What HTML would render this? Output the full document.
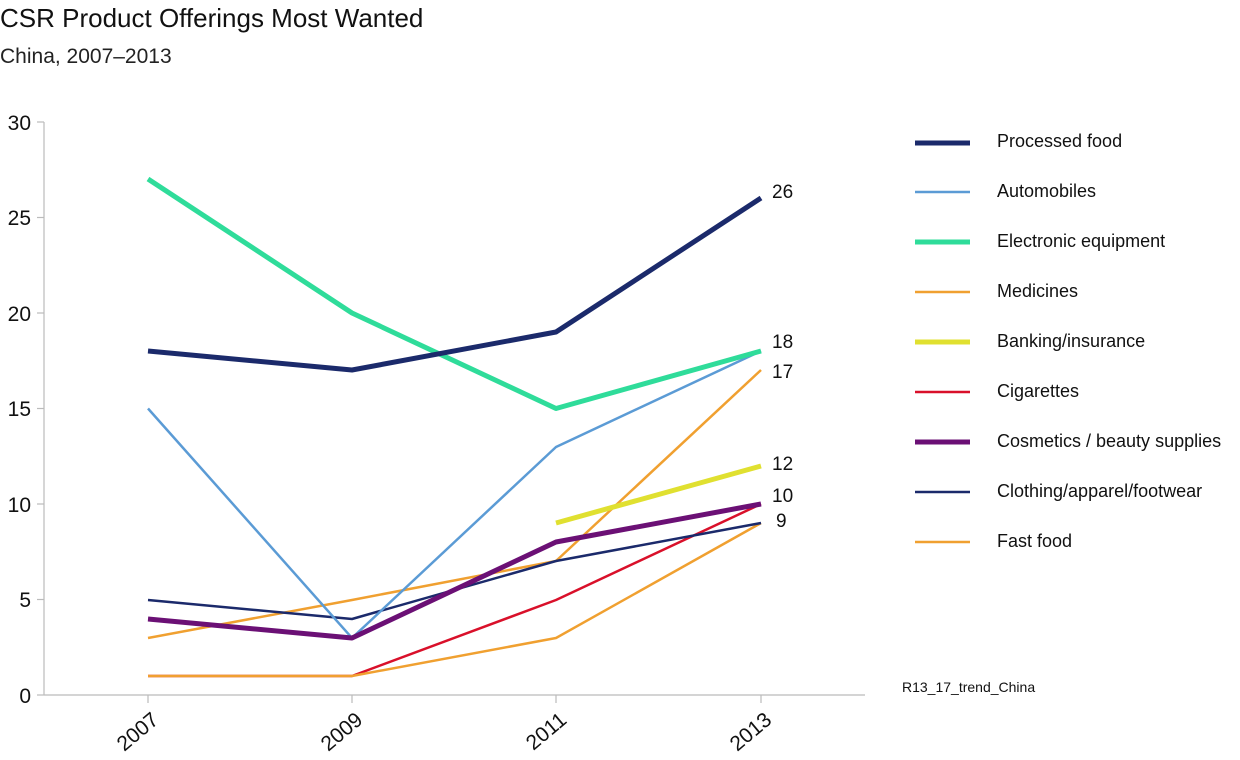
<!DOCTYPE html>
<html><head><meta charset="utf-8"><style>
body{margin:0;background:#fff;width:1240px;height:755px;overflow:hidden;font-family:"Liberation Sans",sans-serif}
</style></head><body>
<svg width="1240" height="755" xmlns="http://www.w3.org/2000/svg" font-family="Liberation Sans, sans-serif">
<text x="0" y="27" font-size="26" fill="#111">CSR Product Offerings Most Wanted</text>
<text x="0" y="63" font-size="21" fill="#222">China, 2007–2013</text>
<g stroke="#bbb" stroke-width="1.2">
<line x1="44" y1="122" x2="44" y2="695"/><line x1="44" y1="695" x2="865" y2="695"/>
<line x1="37" y1="122" x2="44" y2="122"/><line x1="37" y1="217.5" x2="44" y2="217.5"/><line x1="37" y1="313" x2="44" y2="313"/><line x1="37" y1="408.5" x2="44" y2="408.5"/><line x1="37" y1="504" x2="44" y2="504"/><line x1="37" y1="599.5" x2="44" y2="599.5"/><line x1="37" y1="695" x2="44" y2="695"/>
<line x1="148" y1="695" x2="148" y2="703"/><line x1="352" y1="695" x2="352" y2="703"/><line x1="556" y1="695" x2="556" y2="703"/><line x1="761" y1="695" x2="761" y2="703"/>
</g>
<g font-size="21" fill="#111" text-anchor="end">
<text x="31" y="130">30</text><text x="31" y="225">25</text><text x="31" y="321">20</text><text x="31" y="416">15</text><text x="31" y="512">10</text><text x="31" y="607">5</text><text x="31" y="703">0</text>
</g>
<g font-size="21" fill="#111" text-anchor="end">
<text transform="translate(160,722) rotate(-40)">2007</text>
<text transform="translate(364,722) rotate(-40)">2009</text>
<text transform="translate(568,722) rotate(-40)">2011</text>
<text transform="translate(773,722) rotate(-40)">2013</text>
</g>
<g fill="none" stroke-linejoin="round">
<polyline stroke="#d9102a" stroke-width="2.5" points="148,676 352,676 556,600 761,504"/>
<polyline stroke="#f0a030" stroke-width="2.5" points="148,676 352,676 556,638 761,523"/>
<polyline stroke="#f0a030" stroke-width="2.5" points="148,638 352,600 556,561 761,370"/>
<polyline stroke="#1b2a6b" stroke-width="2.5" points="148,600 352,619 556,561 761,523"/>
<polyline stroke="#5b9bd5" stroke-width="2.5" points="148,408.5 352,638 556,447 761,351"/>
<polyline stroke="#6b1075" stroke-width="5" points="148,619 352,638 556,542 761,504"/>
<polyline stroke="#e0e030" stroke-width="5" points="556,523 761,466"/>
<polyline stroke="#2fdc9a" stroke-width="5" points="148,179 352,313 556,408.5 761,351"/>
<polyline stroke="#1b2a6b" stroke-width="5" points="148,351 352,370 556,332 761,198"/>
</g>
<g font-size="19" fill="#111">
<text x="772" y="198">26</text><text x="772" y="348">18</text><text x="772" y="378">17</text><text x="772" y="470">12</text><text x="772" y="502">10</text><text x="776" y="527">9</text>
</g>
<g>
<line x1="915" y1="143" x2="970" y2="143" stroke="#1b2a6b" stroke-width="5"/>
<line x1="915" y1="192" x2="970" y2="192" stroke="#5b9bd5" stroke-width="2.5"/>
<line x1="915" y1="242" x2="970" y2="242" stroke="#2fdc9a" stroke-width="5"/>
<line x1="915" y1="292" x2="970" y2="292" stroke="#f0a030" stroke-width="2.5"/>
<line x1="915" y1="342" x2="970" y2="342" stroke="#e0e030" stroke-width="5"/>
<line x1="915" y1="392" x2="970" y2="392" stroke="#d9102a" stroke-width="2.5"/>
<line x1="915" y1="442" x2="970" y2="442" stroke="#6b1075" stroke-width="5"/>
<line x1="915" y1="492" x2="970" y2="492" stroke="#1b2a6b" stroke-width="2.5"/>
<line x1="915" y1="542" x2="970" y2="542" stroke="#f0a030" stroke-width="2.5"/>
</g>
<g font-size="18" fill="#111">
<text x="997" y="147">Processed food</text>
<text x="997" y="197">Automobiles</text>
<text x="997" y="247">Electronic equipment</text>
<text x="997" y="297">Medicines</text>
<text x="997" y="347">Banking/insurance</text>
<text x="997" y="397">Cigarettes</text>
<text x="997" y="447">Cosmetics / beauty supplies</text>
<text x="997" y="497">Clothing/apparel/footwear</text>
<text x="997" y="547">Fast food</text>
</g>
<text x="902" y="692" font-size="14" fill="#111">R13_17_trend_China</text>
</svg>
</body></html>
